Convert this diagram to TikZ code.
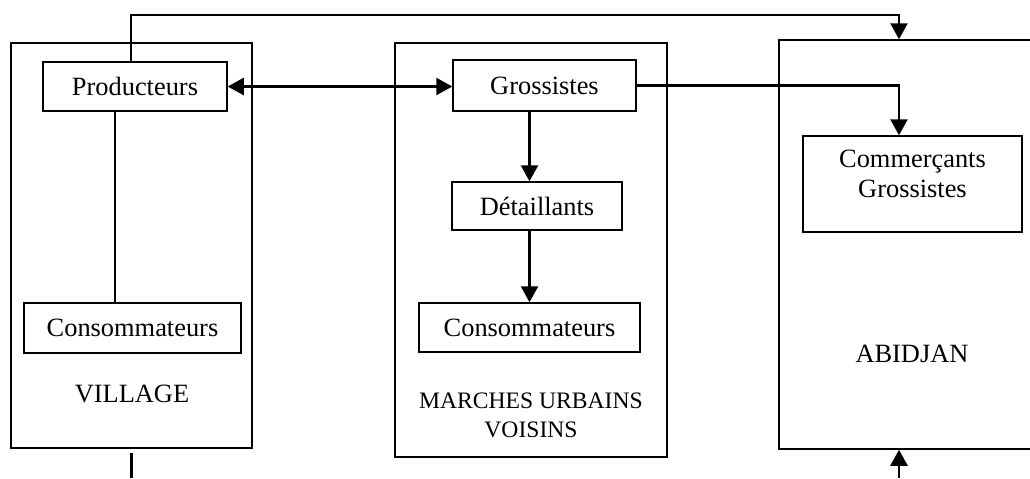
\documentclass[tikz,border=0pt]{standalone}
\usepackage{fontspec}
\setmainfont{Liberation Serif}
\usepackage{tikz}
\tikzset{
  box_font/.style = {font=\fontsize{13.2}{15}\selectfont},
  small_font/.style = {font=\fontsize{11.8}{14.5}\selectfont},
  thin_line/.style = {line width=0.75pt},
  thick_line/.style = {line width=1.2pt}
}
\tikzset{
  area/.style = {draw, thin_line, inner sep=0},
  actor/.style = {area, box_font, align=center},
  area_name/.style = {box_font, align=center},
  flow/.style = {thick_line, -{Triangle[length=8pt, width=8.5pt]}},
  both_flow/.style = {thick_line, {Triangle[length=8pt, width=8.5pt]}-{Triangle[length=8pt, width=8.5pt]}},
  link/.style = {thick_line}
}
\usetikzlibrary{arrows.meta, calc}

\begin{document}
\begin{tikzpicture}[x=0.5pt, y=-0.5pt]
        \clip (0,0) rectangle (1030,478);

        % Areas
        \node[area, minimum width=120.5pt, minimum height=202.5pt] at (131.5,245.5) (village) {};
        \node[area, minimum width=136pt, minimum height=207pt] at (531,250) (marches) {};
        \node[area, minimum width=130.5pt, minimum height=204.5pt] at (909.5,244.5) (abidjan) {};

        % Area names
        \node[area_name] at (132,394) (village_name) {VILLAGE};
        \node[area_name, small_font] at (531,415) (marches_name) {MARCHES URBAINS\\VOISINS};
        \node[area_name] at (912,354) (abidjan_name) {ABIDJAN};

        % Actors
        \node[actor, minimum width=92pt, minimum height=24.5pt] at (135,86.5) (prod) {Producteurs};
        \node[actor, minimum width=108.5pt, minimum height=25pt] at (132.5,328) (cons_v) {Consommateurs};
        \node[actor, minimum width=91.5pt, minimum height=25.5pt] at (544.5,85.5) (gross) {Grossistes};
        \node[actor, minimum width=85pt, minimum height=24pt] at (537,206) (detail) {D\'etaillants};
        \node[actor, minimum width=110.5pt, minimum height=24.5pt] at (529.5,327.5) (cons_m) {Consommateurs};
        \node[actor, minimum width=109.5pt, minimum height=48pt, text depth=10pt] at (912.5,184) (comm) {
            Commer\c{c}ants\\Grossistes};

        % Rails
        \coordinate (top_rail) at (0,15);
        \coordinate (bottom_rail) at (0,478);
        \coordinate (abj_axis) at (899,0);

        % Arrows and lines
        \draw[flow] ([xshift=-2pt]prod.north) |- (top_rail -| abj_axis) -- (abj_axis |- abidjan.north);
        \draw[both_flow] (prod.east) -- (prod.east -| gross.west);
        \draw[flow] (gross.east) -| (abj_axis |- comm.north);
        \draw[link] ([xshift=-10pt]prod.south) -- ([xshift=-10pt]prod.south |- cons_v.north);
        \draw[flow] (gross.south -| cons_m.north) -- (detail.north -| cons_m.north);
        \draw[flow] (detail.south -| cons_m.north) -- (cons_m.north);
        \draw[link] ([yshift=-2pt]village.south) -- (village.south |- bottom_rail);
        \draw[flow] (abj_axis |- bottom_rail) -- (abj_axis |- abidjan.south);
\end{tikzpicture}
\end{document}
